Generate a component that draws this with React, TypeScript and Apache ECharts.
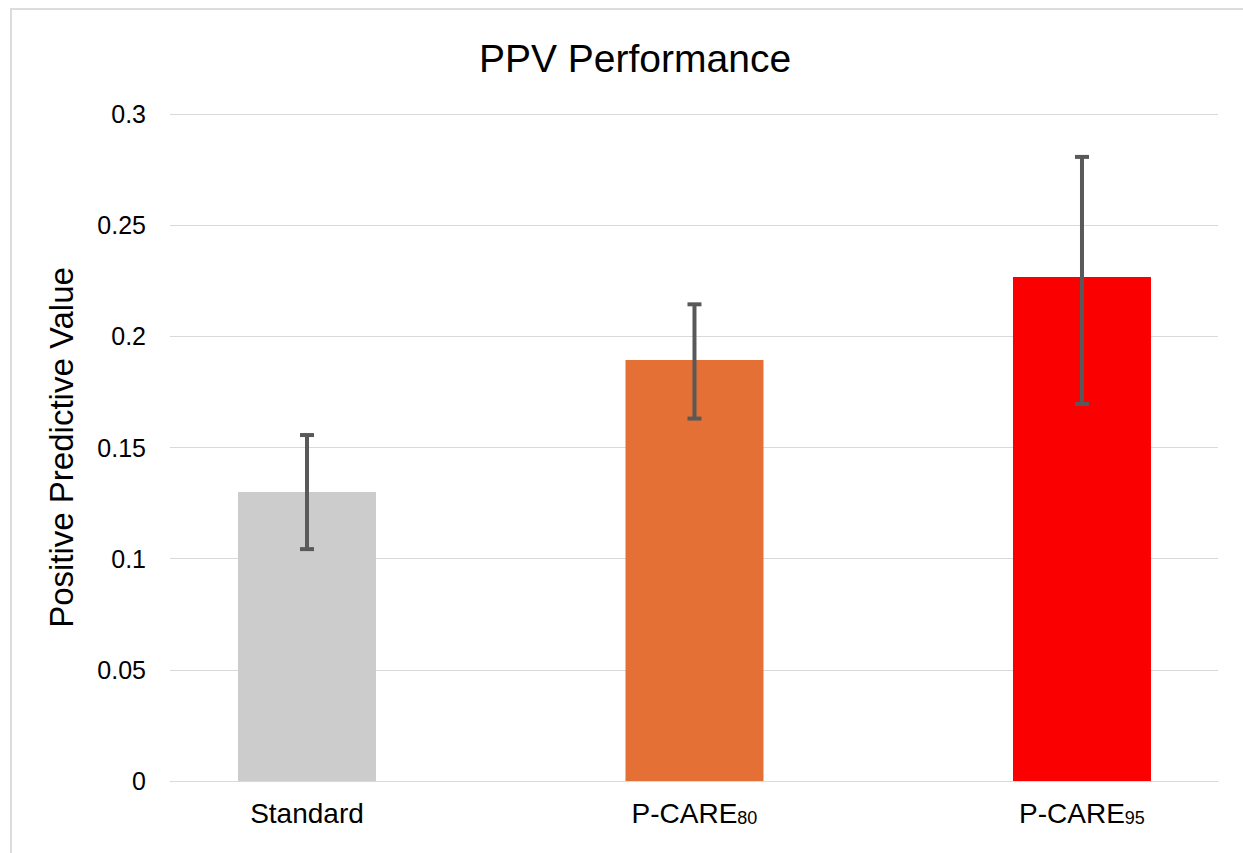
import React, { useEffect, useRef } from 'react'
import * as echarts from 'echarts'

const categories = ['Standard', 'P-CARE{sub|80}', 'P-CARE{sub|95}']
const values = [0.130, 0.1894, 0.2267]
const errLow = [0.1043, 0.163, 0.1696]
const errHigh = [0.1556, 0.2144, 0.2807]
const colors = ['#cccccc', '#e57035', '#fa0000']

export default function App() {
  const chartRef = useRef<HTMLDivElement>(null)

  useEffect(() => {
    if (!chartRef.current) return
    const chart = echarts.init(chartRef.current, null, { renderer: 'svg' })
    const font = 'Liberation Sans, Arial, sans-serif'
    const option: echarts.EChartsOption = {
      animation: false,
      backgroundColor: 'transparent',
      textStyle: { fontFamily: font },
      title: {
        text: 'PPV Performance', left: 630, textAlign: 'center', top: 34,
        textStyle: { fontSize: 39, fontWeight: 'normal', color: '#000', fontFamily: font }
      },
      grid: { left: 170, right: 25, top: 114, bottom: 72 },
      xAxis: {
        type: 'value', min: -0.3535, max: 2.351,
        axisLine: { show: true, onZero: false, lineStyle: { color: '#d9d9d9' } },
        axisTick: { show: false }, axisLabel: { show: false }, splitLine: { show: false }
      },
      yAxis: {
        type: 'value', min: 0, max: 0.3, interval: 0.05,
        name: 'Positive Predictive Value', nameLocation: 'middle', nameGap: 92,
        nameTextStyle: { fontSize: 33, color: '#000', fontFamily: font },
        axisLabel: { color: '#000', fontSize: 25, margin: 24 },
        axisLine: { show: false }, axisTick: { show: false },
        splitLine: { lineStyle: { color: '#d9d9d9', width: 1 } }
      },
      series: [
        {
          type: 'bar', barWidth: 138,
          data: values.map((v, i) => ({
            value: [i, v], itemStyle: { color: colors[i] },
            label: {
              show: true, position: 'bottom', distance: 18, formatter: categories[i],
              color: '#000', fontSize: 28, fontFamily: font,
              rich: { sub: { fontSize: 18, verticalAlign: 'bottom', padding: [10, 0, 0, 0], fontFamily: font, color: '#000' } }
            }
          }))
        },
        {
          type: 'custom', z: 10,
          data: categories.map((_, i) => [i, errLow[i], errHigh[i]]),
          renderItem: (params: any, api: any) => {
            const lo = api.coord([api.value(0), api.value(1)])
            const hi = api.coord([api.value(0), api.value(2)])
            const style = { stroke: '#595959', lineWidth: 4 }
            const c = 7
            return {
              type: 'group',
              children: [
                { type: 'line', shape: { x1: lo[0], y1: lo[1], x2: hi[0], y2: hi[1] }, style },
                { type: 'line', shape: { x1: lo[0] - c, y1: lo[1], x2: lo[0] + c, y2: lo[1] }, style },
                { type: 'line', shape: { x1: hi[0] - c, y1: hi[1], x2: hi[0] + c, y2: hi[1] }, style }
              ]
            }
          }
        }
      ]
    }
    chart.setOption(option)
    return () => chart.dispose()
  }, [])

  return (
    <div style={{ position: 'absolute', left: 0, top: 0, width: 1243, height: 853, background: '#fff', overflow: 'hidden' }}>
      <div style={{ position: 'absolute', left: 10, top: 8, width: 1260, height: 900, border: '2px solid #dcdcdc' }} />
      <div ref={chartRef} style={{ position: 'absolute', left: 0, top: 0, width: 1243, height: 853 }} />
    </div>
  )
}
